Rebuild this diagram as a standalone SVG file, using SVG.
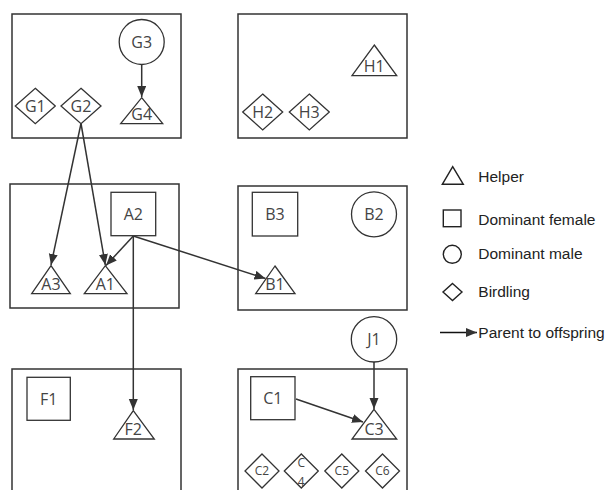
<svg xmlns="http://www.w3.org/2000/svg" width="614" height="490" viewBox="0 0 614 490">
  <style>
    .grp { fill: none; stroke: #333; stroke-width: 1.5; }
    .shape { fill: #fff; stroke: #333; stroke-width: 1.3; }
    .lbl { font-family: "Open Sans", "Liberation Sans", sans-serif; font-size: 16px; fill: #444; text-anchor: middle; }
    .sm { font-size: 12px; }
    .edge { fill: none; stroke: #333; stroke-width: 1.5; }
    .leg { font-family: "Liberation Sans", Arial, sans-serif; font-size: 15.5px; fill: #222; }
    .legshape { fill: #fff; stroke: #222; stroke-width: 1.4; }
  </style>
  <defs>
    <marker id="head" markerUnits="userSpaceOnUse" markerWidth="12" markerHeight="10" refX="11" refY="4.5" orient="auto">
      <path d="M0,0 L11,4.5 L0,9 z" fill="#333"/>
    </marker>
  </defs>
  <rect width="614" height="490" fill="#fff"/>

  <!-- territory groups -->
  <g id="groups">
    <rect id="group-G" class="grp" x="12" y="14" width="169" height="124"/>
    <rect id="group-H" class="grp" x="238" y="14" width="169" height="124"/>
    <rect id="group-A" class="grp" x="10" y="184" width="169" height="124"/>
    <rect id="group-B" class="grp" x="238" y="186" width="169" height="124"/>
    <rect id="group-F" class="grp" x="12" y="369" width="169" height="130"/>
    <rect id="group-C" class="grp" x="238" y="369" width="169" height="130"/>
  </g>

  <!-- connectors: parent to offspring -->
  <g id="connectors">
    <line class="edge" x1="141.7" y1="64.5" x2="141.7" y2="97" marker-end="url(#head)"/>
    <line class="edge" x1="81" y1="123.5" x2="51" y2="265" marker-end="url(#head)"/>
    <line class="edge" x1="81" y1="123.5" x2="105.3" y2="265" marker-end="url(#head)"/>
    <line class="edge" x1="133.3" y1="236" x2="106" y2="265.5" marker-end="url(#head)"/>
    <line class="edge" x1="133.3" y1="236" x2="265.5" y2="278.5" marker-end="url(#head)"/>
    <line class="edge" x1="133.3" y1="236" x2="133.3" y2="410" marker-end="url(#head)"/>
    <line class="edge" x1="374" y1="362" x2="374" y2="409" marker-end="url(#head)"/>
    <line class="edge" x1="296" y1="399" x2="363" y2="422" marker-end="url(#head)"/>
  </g>

  <!-- group G -->
  <g id="G3"><circle class="shape" cx="141.7" cy="42" r="22.5"/><text class="lbl" x="141.7" y="47.7">G3</text></g>
  <g id="G4"><polygon class="shape" points="141.7,97.7 162.7,123.7 120.7,123.7"/><text class="lbl" x="141.7" y="120">G4</text></g>
  <g id="G1"><polygon class="shape" points="35.3,88.3 55.3,106 35.3,123.7 15.3,106"/><text class="lbl" x="35.3" y="111.7">G1</text></g>
  <g id="G2"><polygon class="shape" points="81,88.3 101,106 81,123.7 61,106"/><text class="lbl" x="81" y="111.7">G2</text></g>

  <!-- group H -->
  <g id="H1"><polygon class="shape" points="374.3,45 396.7,75.7 352,75.7"/><text class="lbl" x="374.3" y="71.5">H1</text></g>
  <g id="H2"><polygon class="shape" points="262.7,94 282.7,112 262.7,130 242.7,112"/><text class="lbl" x="262.7" y="117.7">H2</text></g>
  <g id="H3"><polygon class="shape" points="309.3,94 329.3,112 309.3,130 289.3,112"/><text class="lbl" x="309.3" y="117.7">H3</text></g>

  <!-- group A -->
  <g id="A2"><rect class="shape" x="111" y="192.3" width="44.7" height="43.4"/><text class="lbl" x="133.3" y="219.7">A2</text></g>
  <g id="A3"><polygon class="shape" points="51,265.7 70.3,293.7 31.7,293.7"/><text class="lbl" x="51" y="289.5">A3</text></g>
  <g id="A1"><polygon class="shape" points="105.3,265.7 127,293.7 84.3,293.7"/><text class="lbl" x="105.3" y="289.5">A1</text></g>

  <!-- group B -->
  <g id="B3"><rect class="shape" x="252.3" y="192.3" width="45.4" height="43.7"/><text class="lbl" x="275" y="219.8">B3</text></g>
  <g id="B2"><circle class="shape" cx="374" cy="214.3" r="22.5"/><text class="lbl" x="374" y="220">B2</text></g>
  <g id="B1"><polygon class="shape" points="275,266 295,293.7 255.7,293.7"/><text class="lbl" x="275" y="289.5">B1</text></g>

  <!-- group F -->
  <g id="F1"><rect class="shape" x="27" y="377.3" width="43.3" height="43"/><text class="lbl" x="48.7" y="404.5">F1</text></g>
  <g id="F2"><polygon class="shape" points="133.3,410.7 154.3,439 113.7,439"/><text class="lbl" x="133.3" y="435">F2</text></g>

  <!-- group C -->
  <g id="J1"><circle class="shape" cx="374" cy="339.3" r="22.7"/><text class="lbl" x="374" y="345">J1</text></g>
  <g id="C1"><rect class="shape" x="250.7" y="376.7" width="44.3" height="43"/><text class="lbl" x="272.8" y="404">C1</text></g>
  <g id="C3"><polygon class="shape" points="374,409.3 396.7,439 352,439"/><text class="lbl" x="374" y="435">C3</text></g>
  <g id="C2"><polygon class="shape" points="262,454 279,471 262,488 245,471"/><text class="lbl sm" x="262" y="475.3">C2</text></g>
  <g id="C4"><polygon class="shape" points="301.3,454 318.3,471 301.3,488 284.3,471"/><text class="lbl sm" x="301.3" y="466.5">C</text><text class="lbl sm" x="301.3" y="485.5">4</text></g>
  <g id="C5"><polygon class="shape" points="341.8,454 358.8,471 341.8,488 324.8,471"/><text class="lbl sm" x="341.8" y="475.3">C5</text></g>
  <g id="C6"><polygon class="shape" points="382.5,454 399.5,471 382.5,488 365.5,471"/><text class="lbl sm" x="382.5" y="475.3">C6</text></g>

  <!-- legend -->
  <g id="legend">
    <polygon class="legshape" points="452.7,166.7 463.3,184.3 442.3,184.3"/>
    <text class="leg" x="478.3" y="181.7">Helper</text>
    <rect class="legshape" x="443.3" y="210" width="17.7" height="16.7"/>
    <text class="leg" x="478.3" y="225">Dominant female</text>
    <circle class="legshape" cx="452.3" cy="254.3" r="9"/>
    <text class="leg" x="478.3" y="259.3">Dominant male</text>
    <polygon class="legshape" points="452.5,283.5 462,292 452.5,300.5 443,292"/>
    <text class="leg" x="478.3" y="296.7">Birdling</text>
    <line x1="440" y1="332.5" x2="477" y2="332.5" stroke="#111" stroke-width="1.5" marker-end="url(#head)"/>
    <text class="leg" x="478.3" y="338">Parent to offspring</text>
  </g>
</svg>
